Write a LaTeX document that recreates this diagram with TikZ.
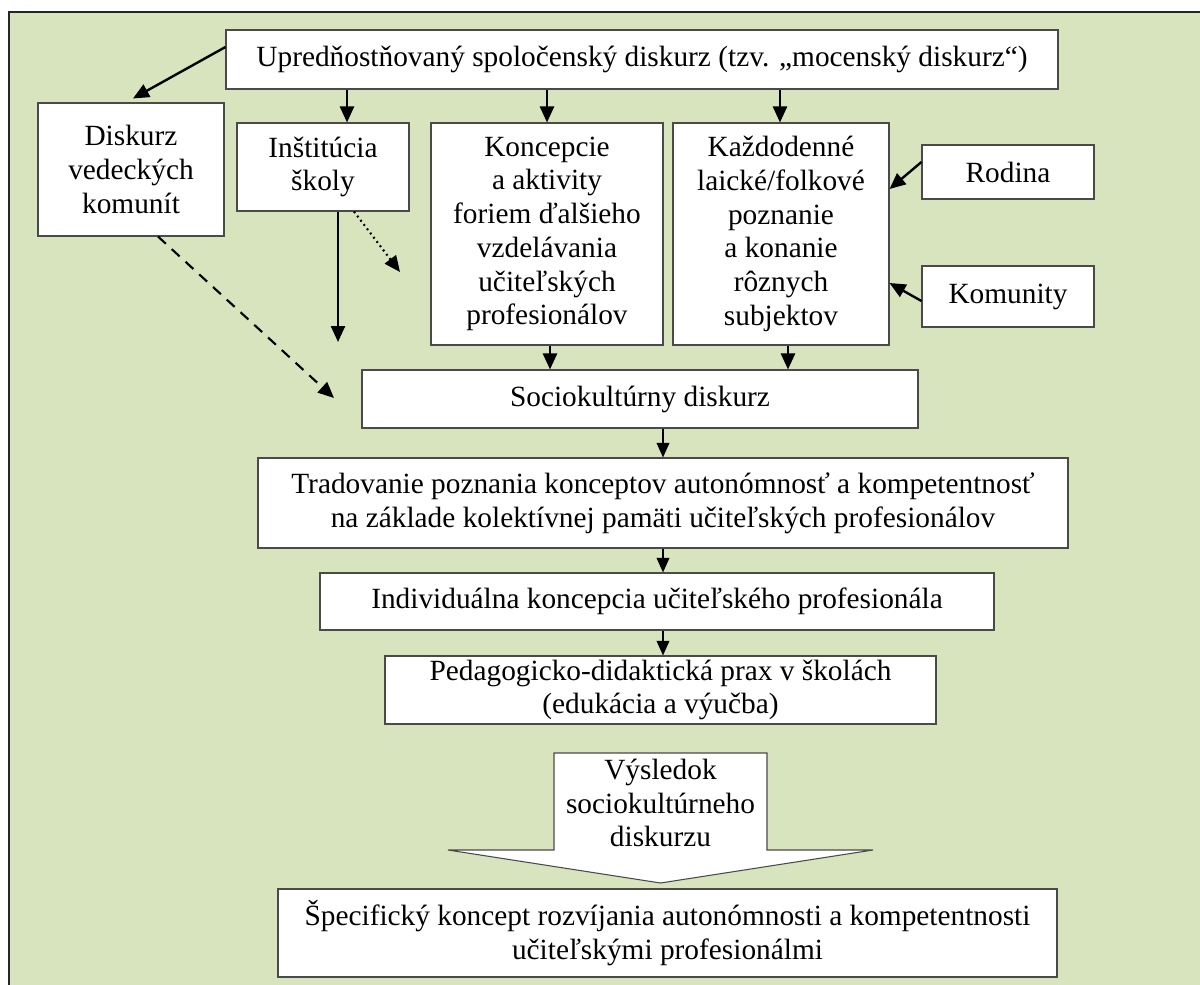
\documentclass[tikz,border=0pt]{standalone}
\usepackage{fontspec}
\setmainfont{Liberation Serif}
\usetikzlibrary{arrows.meta,calc}
\definecolor{panel}{HTML}{D7E4BD}
\definecolor{boxline}{HTML}{4A4A4A}
\newcommand{\boxfont}{\fontsize{22}{25.3}\selectfont}
\tikzset{
  box/.style 2 args={draw=boxline, fill=white, line width=0.8pt, align=center,
    inner sep=0pt, font=\boxfont,
    minimum width=0.75pt*#1, minimum height=0.75pt*#2},
  tip/.style={-{Triangle[length=12pt,width=10.5pt]}},
  arr/.style={line width=1.8pt, tip},
  thinarr/.style={line width=1.3pt, -{Triangle[length=11pt,width=9.5pt]}},
}
\begin{document}
\begin{tikzpicture}[x=0.75pt,y=-0.75pt]
% panel with its top and left rule
\useasboundingbox (0,0) rectangle (1200,985);
\fill[panel] (9,12) rectangle (1200,985);
\draw[line width=1.1pt, black!85] (1200,12) -- (9,12) -- (9,985);

% boxes
\node[box={832}{59}] (up) at (642,59.5)
  {Upredňostňovaný spoločenský diskurz (tzv. „mocenský diskurz“)};
\node[box={186}{133}] (dis) at (131,169.5)
  {Diskurz\\vedeckých\\komunít};
\node[box={172}{88}] (inst) at (323,167)
  {Inštitúcia\\školy};
\node[box={232}{222}] (konc) at (547,234)
  {Koncepcie\\a aktivity\\foriem ďalšieho\\vzdelávania\\učiteľských\\profesionálov};
\node[box={216}{222}] (kazd) at (781,234)
  {Každodenné\\laické/folkové\\poznanie\\a konanie\\rôznych\\subjektov};
\node[box={172}{54}] (rod) at (1008,172) {Rodina};
\node[box={172}{61}] (kom) at (1008,296.5) {Komunity};
\node[box={556}{58}] (soc) at (640,399) {Sociokultúrny diskurz};
\node[box={810}{90}] (trad) at (663,503)
  {Tradovanie poznania konceptov autonómnosť a kompetentnosť\\na základe kolektívnej pamäti učiteľských profesionálov};
\node[box={674}{57}] (ind) at (657,601.5)
  {Individuálna koncepcia učiteľského profesionála};
\node[box={551}{68}] (ped) at (660.5,690)
  {Pedagogicko-didaktická prax v školách\\(edukácia a výučba)};
\node[box={779}{88}] (spec) at (667.5,933)
  {Špecifický koncept rozvíjania autonómnosti a kompetentnosti\\učiteľskými profesionálmi};

% block arrow with its caption
\draw[boxline, fill=white, line width=0.8pt]
  (554,753) -- (767,753) -- (767,850) -- (873,850) -- (660.5,883)
  -- (448,850) -- (554,850) -- cycle;
\node[align=center, inner sep=0pt, font=\boxfont] (vys) at (660.5,803)
  {Výsledok\\sociokultúrneho\\diskurzu};

% free ends of the open connectors
\coordinate (instend) at (338,342);
\coordinate (dotend) at (400,272);
\coordinate (dashend) at (334,398);

% connectors from the top box
\draw[arr] ($(up.west)+(0,-12.5)$) -- ($(dis.north)+(2,-4)$);
\draw[arr] (up.south -| 347,0) -- (inst.north -| 347,0);
\draw[arr] (up.south -| 547,0) -- (konc.north);
\draw[arr] (up.south -| 780,0) -- (kazd.north -| 780,0);

% influences on everyday knowledge
\draw[arr] ($(rod.west)+(0,-10)$) -- ($(kazd.east)+(0,-45)$);
\draw[arr] ($(kom.west)+(0,4.5)$) -- ($(kazd.east)+(0,49)$);

% school and science connectors
\draw[arr] (inst.south -| instend) -- (instend);
\draw[line width=1.6pt, dash pattern=on 1.4pt off 2.6pt, tip]
  (inst.south -| 354,0) -- (dotend);
\draw[line width=1.6pt, dash pattern=on 8pt off 6pt, tip]
  (dis.south -| 158,0) -- (dashend);

% into the sociocultural discourse and down the chain
\draw[arr] (konc.south -| 550,0) -- (soc.north -| 550,0);
\draw[arr] (kazd.south -| 788,0) -- (soc.north -| 788,0);
\draw[thinarr] (soc.south -| 663,0) -- (trad.north -| 663,0);
\draw[thinarr] (trad.south -| 663,0) -- (ind.north -| 663,0);
\draw[thinarr] (ind.south -| 663,0) -- (ped.north -| 663,0);
\end{tikzpicture}
\end{document}
